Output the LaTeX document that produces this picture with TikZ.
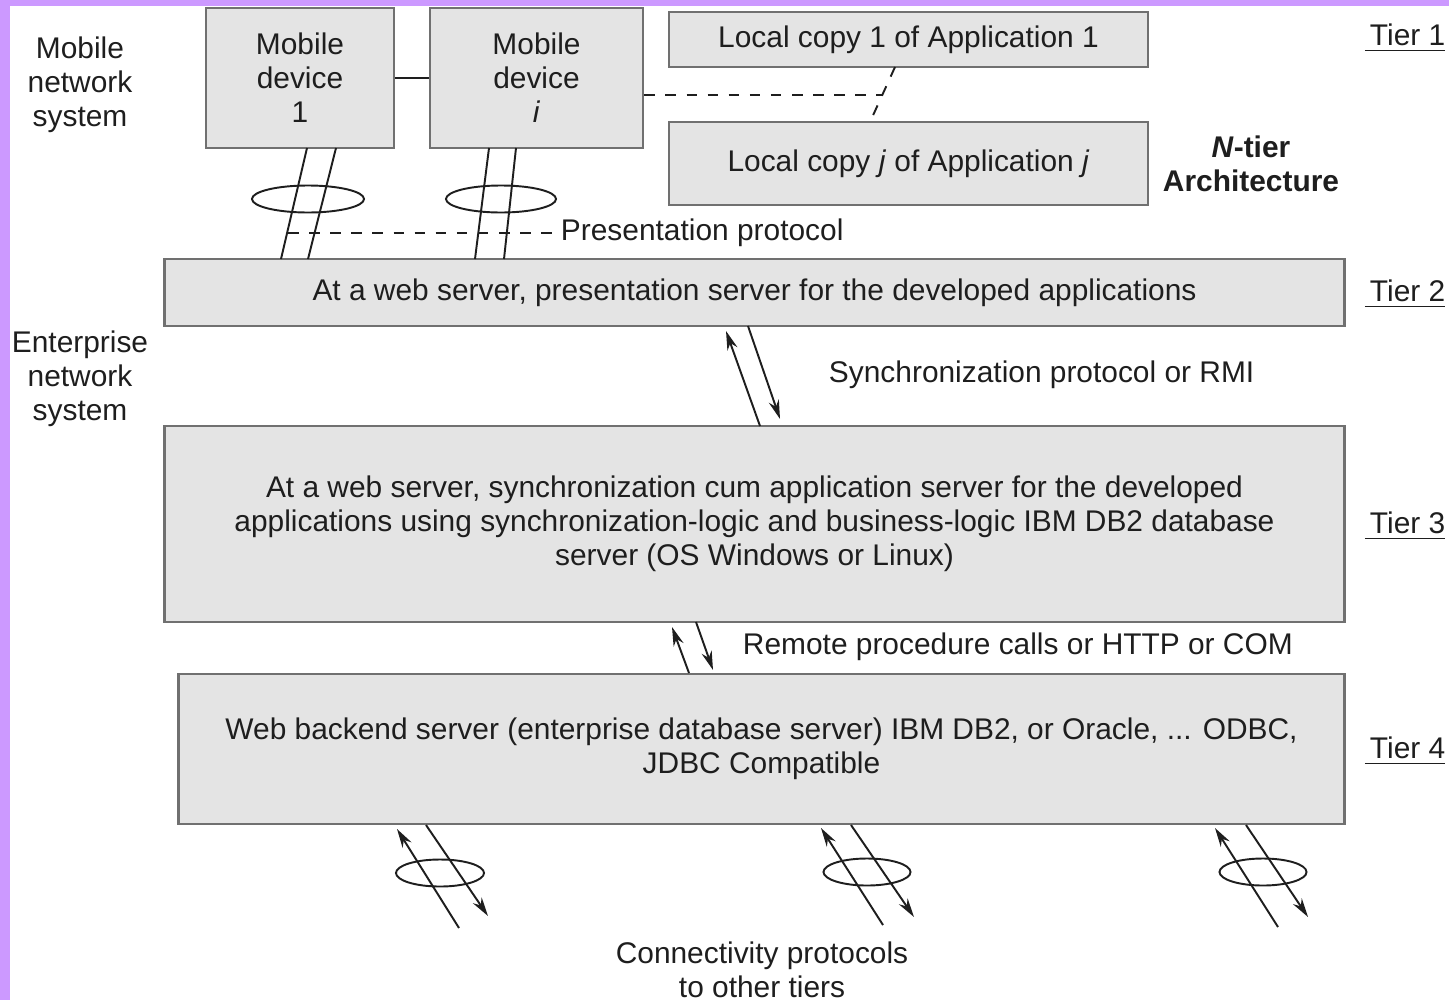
\documentclass[tikz,border=0pt]{standalone}
\usepackage{fontspec}
\setmainfont{Liberation Sans}
\usetikzlibrary{arrows.meta,shapes.geometric}

\definecolor{frame}{RGB}{204,153,255}
\definecolor{boxfill}{RGB}{228,228,228}
\definecolor{boxline}{RGB}{112,112,112}
\definecolor{ink}{RGB}{30,30,30}

\begin{document}
\begin{tikzpicture}[x=0.01cm,y=-0.01cm,line width=0.55pt,draw=ink,
		font=\fontsize{8.5}{9.7}\selectfont,text=ink,
		box/.style={draw=boxline,fill=boxfill,line width=0.7pt,inner sep=0pt,align=center},
		lbl/.style={align=center,inner sep=0pt},
		ring/.style={draw,ellipse,inner sep=0pt,minimum height=0.27cm},
		arr/.style={-{Stealth[length=1.9mm,width=1.05mm]}}]
			\useasboundingbox (0,0) rectangle (1449,1000);
			\fill[frame] (0,0) rectangle (10,1000);
			\fill[frame] (0,0) rectangle (1449,6);
		
			\node[box,minimum width=1.88cm,minimum height=1.40cm] (md1) at (300,78) {Mobile\\device\\1};
			\node[box,minimum width=2.13cm,minimum height=1.40cm] (mdi) at (536.5,78) {Mobile\\device\\\textit{i}};
			\node[box,minimum width=4.79cm,minimum height=0.55cm] (lc1) at (908.5,39.5) {Local copy 1 of Application 1};
			\node[box,minimum width=4.79cm,minimum height=0.83cm] (lcj) at (908.5,163.5) {Local copy \textit{j} of Application \textit{j}};
		
			\node[box,minimum width=11.79cm,minimum height=0.67cm] (t2) at (754.5,292.5) {At a web server, presentation server for the developed applications};
			\node[box,minimum width=11.79cm,minimum height=1.96cm] (t3) at (754.5,524) {At a web server,  synchronization cum application server for the developed\\applications using synchronization-logic and business-logic IBM DB2 database\\server (OS Windows or Linux)};
			\node[box,minimum width=11.65cm,minimum height=1.50cm] (t4) at (761.5,749) {Web backend server (enterprise database server) IBM DB2, or Oracle, ... ODBC,\\JDBC Compatible};
		
			\node[lbl] (mns) at (80,85) {Mobile\\network\\system};
			\node[lbl] (ens) at (80,379) {Enterprise\\network\\system};
			\node[lbl,font=\fontsize{8.5}{9.7}\selectfont\bfseries] (ntier) at (1251,164) {\textit{N}-tier\\Architecture};
		
			\node[lbl,anchor=west] (tier1) at (1364,38) {\underline{\,Tier 1}};
			\node[lbl,anchor=west] (tier2) at (1364,294) {\underline{\,Tier 2}};
			\node[lbl,anchor=west] (tier3) at (1364,526) {\underline{\,Tier 3}};
			\node[lbl,anchor=west] (tier4) at (1364,751) {\underline{\,Tier 4}};
		
			\node[lbl,anchor=west] (pp) at (560,233) {Presentation protocol};
			\node[lbl,anchor=west] (sp) at (828,375) {Synchronization protocol or RMI};
			\node[lbl,anchor=west] (rp) at (742,647) {Remote procedure calls or HTTP or COM};
			\node[lbl] (cp) at (762,970) {Connectivity protocols\\to other tiers};
		
			\coordinate (p1a) at (307,148); \coordinate (p1b) at (281,259);
			\coordinate (p2a) at (336,148); \coordinate (p2b) at (308,259);
			\coordinate (p3a) at (489,148); \coordinate (p3b) at (475,259);
			\coordinate (p4a) at (516,148); \coordinate (p4b) at (504,259);
			\coordinate (pd) at (288,233);
			\coordinate (sl1) at (895,67); \coordinate (sl2) at (870,122);
			\coordinate (dj) at (882,95);
		
			\node[ring,minimum width=1.12cm] (e1) at (308,199) {};
			\node[ring,minimum width=1.10cm] (e2) at (501,199) {};
		
			\draw (md1) -- (mdi);
			\draw (p1a) -- (p1b);
			\draw (p2a) -- (p2b);
			\draw (p3a) -- (p3b);
			\draw (p4a) -- (p4b);
			\draw[dashed] (pd) -- (pp.west);
			\draw[dashed] (mdi.east |- dj) -- (dj);
			\draw[dashed] (sl1) -- (sl2);
		
			\coordinate (s1a) at (760,426); \coordinate (s1b) at (726,331);
			\coordinate (s2a) at (748,326); \coordinate (s2b) at (780,419);
			\draw[arr] (s1a) -- (s1b);
			\draw[arr] (s2a) -- (s2b);
		
			\coordinate (r1a) at (689,673); \coordinate (r1b) at (672,627);
			\coordinate (r2a) at (696,622); \coordinate (r2b) at (713,670);
			\draw[arr] (r1a) -- (r1b);
			\draw[arr] (r2a) -- (r2b);
		
			\coordinate (c1a) at (459,928); \coordinate (c1b) at (397,829);
			\coordinate (c2a) at (426,825); \coordinate (c2b) at (488,916);
			\node[ring,minimum width=0.88cm] (e3) at (440,873) {};
			\draw[arr] (c1a) -- (c1b);
			\draw[arr] (c2a) -- (c2b);
		
			\coordinate (c3a) at (883,925); \coordinate (c3b) at (821,828);
			\coordinate (c4a) at (851,825); \coordinate (c4b) at (914,917);
			\node[ring,minimum width=0.87cm] (e4) at (867,872) {};
			\draw[arr] (c3a) -- (c3b);
			\draw[arr] (c4a) -- (c4b);
		
			\coordinate (c5a) at (1278,927); \coordinate (c5b) at (1215,828);
			\coordinate (c6a) at (1246,825); \coordinate (c6b) at (1308,917);
			\node[ring,minimum width=0.87cm] (e5) at (1263,872) {};
			\draw[arr] (c5a) -- (c5b);
			\draw[arr] (c6a) -- (c6b);
		\end{tikzpicture}
\end{document}
